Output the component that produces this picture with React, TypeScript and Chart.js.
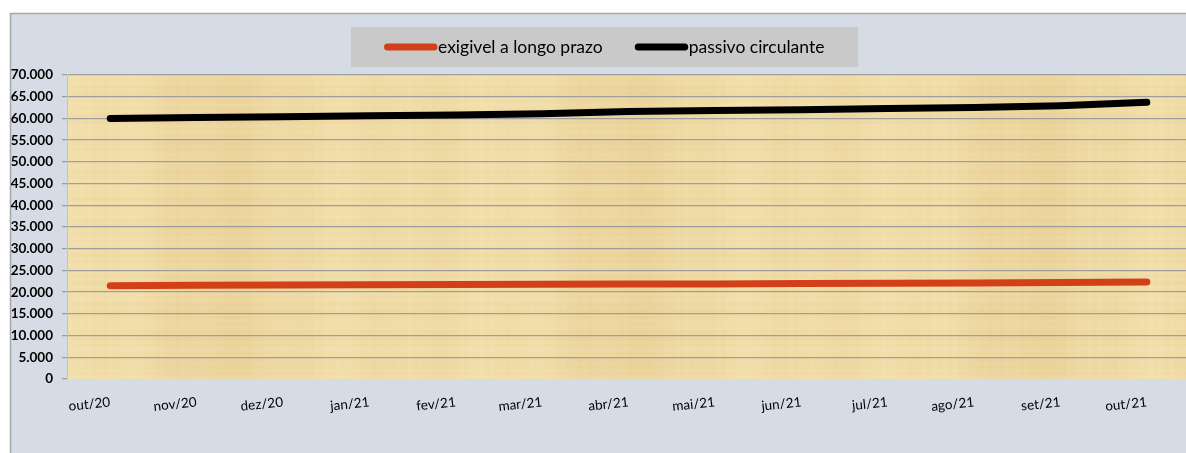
import React, { useEffect, useRef } from 'react';
import { Chart, registerables } from 'chart.js';

Chart.register(...registerables);

const categories = ['out/20', 'nov/20', 'dez/20', 'jan/21', 'fev/21', 'mar/21', 'abr/21', 'mai/21', 'jun/21', 'jul/21', 'ago/21', 'set/21', 'out/21'];
const exigivelLongoPrazo = [21500, 21600, 21650, 21700, 21750, 21800, 21850, 21900, 22000, 22050, 22100, 22200, 22350];
const passivoCirculante = [60000, 60200, 60400, 60600, 60800, 61100, 61600, 61800, 62000, 62300, 62500, 62900, 63700];
const seriesLabels = ['exigivel a longo prazo', 'passivo circulante'];
const seriesColors = ['#D2401A', '#000000'];
const yMin = 0;
const yMax = 70000;
const yStep = 5000;

const FONT = 'Lato, "Open Sans", sans-serif';

function fmt(v: number): string {
  return String(v).replace(/\B(?=(\d{3})+(?!\d))/g, '.');
}

let textureCache: HTMLCanvasElement | null = null;
function papyrus(w: number, h: number): HTMLCanvasElement {
  if (textureCache && textureCache.width === w && textureCache.height === h) return textureCache;
  const c = document.createElement('canvas');
  c.width = w;
  c.height = h;
  const g = c.getContext('2d')!;
  for (let x = 0; x < w; x++) {
    const v =
      Math.sin(x * 0.031) * 2.5 +
      Math.sin(x * 0.093 + 1.3) * 1.5 +
      Math.sin(x * 0.61 + 0.4) * 0.8 +
      Math.sin(x * 0.0157 + 2.1) * 3;
    const r = Math.round(239 + v * 0.6);
    const gg = Math.round(218 + v);
    const b = Math.round(164 + v * 1.4);
    g.fillStyle = `rgb(${r},${gg},${b})`;
    g.fillRect(x, 0, 1, h);
  }
  for (let y = 0; y < h; y++) {
    const v = Math.sin(y * 0.9 + 0.3) * 0.5 + Math.sin(y * 0.23 + 1.1) * 0.5;
    g.fillStyle = v > 0 ? `rgba(255,246,220,${0.10 * v})` : `rgba(200,160,90,${-0.05 * v})`;
    g.fillRect(0, y, w, 1);
  }
  textureCache = c;
  return c;
}

const backgroundPlugin = {
  id: 'excelBackground',
  beforeDraw(chart: any) {
    const { ctx, chartArea: a, width, height } = chart;
    ctx.save();
    ctx.fillStyle = '#FFFFFF';
    ctx.fillRect(0, 0, width, height);
    ctx.fillStyle = '#D6DCE5';
    ctx.fillRect(10, 13, width, height);
    ctx.strokeStyle = '#A6A6A6';
    ctx.lineWidth = 1.5;
    ctx.strokeRect(10.5, 13.5, width + 20, height + 20);
    const tw = Math.round(a.right - a.left);
    const th = Math.round(a.bottom - a.top);
    ctx.drawImage(papyrus(tw, th), Math.round(a.left), Math.round(a.top));
    ctx.restore();
  },
  afterDraw(chart: any) {
    const { ctx } = chart;
    ctx.save();
    const boxX = 351;
    const boxY = 27;
    const boxW = 507;
    const boxH = 40;
    ctx.fillStyle = '#C9C9C9';
    ctx.fillRect(boxX, boxY, boxW, boxH);
    ctx.font = `17.5px ${FONT}`;
    ctx.textBaseline = 'middle';
    ctx.textAlign = 'left';
    const cy = boxY + boxH / 2;
    let x = 384;
    chart.data.datasets.forEach((ds: any) => {
      ctx.strokeStyle = ds.borderColor;
      ctx.lineWidth = 7;
      ctx.lineCap = 'round';
      ctx.beginPath();
      ctx.moveTo(x + 3.5, cy);
      ctx.lineTo(x + 50, cy);
      ctx.stroke();
      ctx.fillStyle = '#000000';
      ctx.fillText(ds.label, x + 54, cy);
      x = x + 54 + ctx.measureText(ds.label).width + 32;
    });
    ctx.restore();
  },
};

export default function App() {
  const ref = useRef<HTMLCanvasElement | null>(null);

  useEffect(() => {
    if (!ref.current) return;
    const chart = new Chart(ref.current, {
      type: 'line',
      data: {
        labels: categories,
        datasets: [
          {
            label: seriesLabels[0],
            data: exigivelLongoPrazo,
            borderColor: seriesColors[0],
            backgroundColor: seriesColors[0],
            borderWidth: 7,
            borderCapStyle: 'round',
            borderJoinStyle: 'round',
            pointRadius: 0,
            tension: 0,
          },
          {
            label: seriesLabels[1],
            data: passivoCirculante,
            borderColor: seriesColors[1],
            backgroundColor: seriesColors[1],
            borderWidth: 7,
            borderCapStyle: 'round',
            borderJoinStyle: 'round',
            pointRadius: 0,
            tension: 0,
          },
        ],
      },
      options: {
        responsive: false,
        animation: false,
        devicePixelRatio: 1,
        layout: { padding: { top: 75, left: 0, right: 10, bottom: 0 } },
        plugins: {
          legend: { display: false },
          tooltip: { enabled: false },
          title: { display: false },
        },
        scales: {
          x: {
            offset: true,
            grid: { display: false, drawTicks: false },
            border: { display: false },
            ticks: {
              autoSkip: false,
              minRotation: 6,
              maxRotation: 6,
              padding: 15,
              color: '#000000',
              font: { family: FONT, size: 13.5 },
            },
            afterFit: (s: any) => {
              s.height = 74;
            },
          },
          y: {
            min: yMin,
            max: yMax,
            grid: {
              color: (c: any) => (c.tick && c.tick.value === 0 ? 'rgba(0,0,0,0)' : '#9E9E9E'),
              tickColor: '#9E9E9E',
              lineWidth: 1.3,
              tickLength: 5,
              drawTicks: true,
            },
            border: { display: true, color: '#C4C4C4', width: 1 },
            ticks: {
              stepSize: yStep,
              padding: 9,
              color: '#000000',
              font: { family: FONT, size: 13.5, weight: 'bold' },
              callback: (v: any) => fmt(Number(v)),
            },
            afterFit: (s: any) => {
              s.width = 67;
            },
          },
        },
      },
      plugins: [backgroundPlugin],
    });
    return () => chart.destroy();
  }, []);

  return (
    <div style={{ position: 'fixed', left: 0, top: 0, width: 1186, height: 453, overflow: 'hidden', background: '#fff' }}>
      <canvas ref={ref} width={1200} height={453} style={{ display: 'block', width: 1200, height: 453 }} />
    </div>
  );
}
